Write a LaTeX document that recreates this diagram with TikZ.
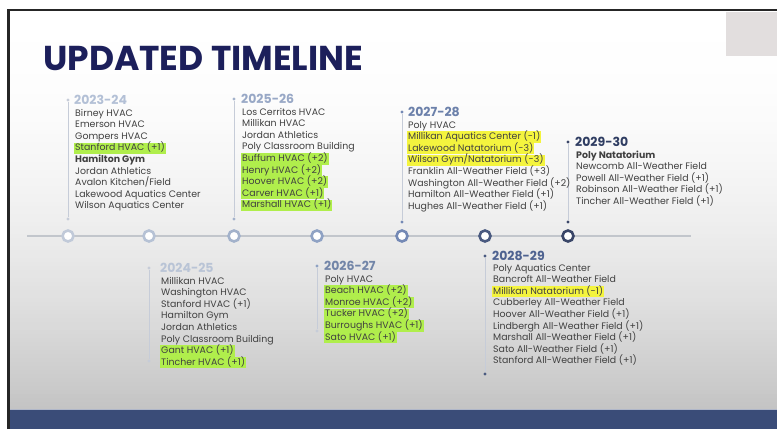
\documentclass[tikz,border=0pt]{standalone}
\usepackage{fontspec}
\setmainfont{Poppins}
\usetikzlibrary{positioning,calc}
\definecolor{titlenavy}{HTML}{1C1F5B}
\definecolor{itemgray}{HTML}{404040}
\definecolor{hlgreen}{HTML}{B0EE4C}
\definecolor{hlyellow}{HTML}{F4F43E}
\definecolor{bandblue}{HTML}{3A4C78}
\definecolor{framegray}{HTML}{262626}
\definecolor{cornerbox}{HTML}{E2DEDE}
\definecolor{slidebot}{HTML}{C4C4C4}
\definecolor{axisgray}{HTML}{C2C6CC}
\definecolor{stemgray}{HTML}{C6CCD8}
\definecolor{ringA}{HTML}{C1CAD9}
\definecolor{ringB}{HTML}{B6C2D5}
\definecolor{ringC}{HTML}{A3B2CB}
\definecolor{ringD}{HTML}{8FA2C4}
\definecolor{ringE}{HTML}{7489B5}
\definecolor{ringF}{HTML}{4A5A80}
\definecolor{ringG}{HTML}{3A4668}
\definecolor{yearA}{HTML}{B3C0D6}
\definecolor{yearB}{HTML}{B9C4D6}
\definecolor{yearC}{HTML}{98A8C6}
\definecolor{yearD}{HTML}{7285A8}
\definecolor{yearE}{HTML}{6B80AA}
\definecolor{yearF}{HTML}{4E6290}
\definecolor{yearG}{HTML}{2F3D62}
\tikzset{
  item/.style={anchor=base west, inner xsep=1pt, inner ysep=0.9pt,
    text height=7.3pt, text depth=2.3pt, text=itemgray,
    font=\fontsize{9.4}{11}\selectfont},
  yearlbl/.style={anchor=base west, inner sep=0pt,
    font=\fontsize{12.5}{14}\selectfont\bfseries},
  ring/.style={circle, draw, line width=2.6pt, fill=white,
    minimum size=11pt, inner sep=0pt},
  stem/.style={line width=1pt, draw=stemgray},
  pin/.style={circle, fill, inner sep=0pt, minimum size=3.2pt},
  title/.style={anchor=base west, inner sep=0pt, text=titlenavy,
    font=\fontsize{34.5}{37}\selectfont\bfseries}
}
% one column of project lines: name prefix, x, first baseline, list
\newcommand{\tlcol}[4]{%
  \foreach \txt/\hl [count=\i] in {#4}
    \node[item, fill=\hl] (#1\i) at (#2,{#3+11.6*(\i-1)}) {\txt};
}

\begin{document}
\begin{tikzpicture}[x=1pt, y=-1pt]
    \useasboundingbox (0,0) rectangle (777,429);
    \fill[white] (0,0) rectangle (777,429);
    % slide background, white fading to grey towards the bottom
    \foreach \k in {0,...,99} {
      \pgfmathsetmacro{\grey}{100*(\k/99)^2}
      \fill[slidebot!\grey!white] (9,{10+4*\k}) rectangle (777,{14.2+4*\k});
    }
    \fill[cornerbox] (726,12) rectangle (777,56);
    \fill[bandblue] (9,409) rectangle (777,429);
    \draw[white!60!bandblue, line width=0.6pt] (9,409) -- (777,409);
    \draw[framegray, line width=2.5pt] (8.5,429) -- (8.5,10) -- (777,10);

    \node[title] (title) at (43,70) {UPDATED TIMELINE};

    % axis and rings
    \coordinate (axL) at (27,236);
    \coordinate (axR) at (691,236);
    \draw[axisgray, line width=2pt] (axL) -- (axR);
    \node[ring, draw=ringA] (c1) at (68,236) {};
    \node[ring, draw=ringB] (c2) at (149,236) {};
    \node[ring, draw=ringC] (c3) at (234,236) {};
    \node[ring, draw=ringD] (c4) at (317,236) {};
    \node[ring, draw=ringE] (c5) at (402,236) {};
    \node[ring, draw=ringF] (c6) at (485,236) {};
    \node[ring, draw=ringG] (c7) at (568,236) {};

    % stems with end pins
    \node[pin, fill=stemgray] (d1) at (68,100) {};
    \node[pin, fill=stemgray] (t1) at (68,219) {};
    \node[pin, fill=stemgray] (d2) at (149,268) {};
    \node[pin, fill=stemgray] (t2) at (149,361) {};
    \node[pin, fill=ringC] (d3) at (234,99) {};
    \node[pin, fill=ringC] (t3) at (234,219) {};
    \node[pin, fill=ringD] (d4) at (317,266) {};
    \node[pin, fill=stemgray] (t4) at (317,331) {};
    \node[pin, fill=ringE] (d5) at (402,112) {};
    \node[pin, fill=ringE] (t5) at (402,222) {};
    \node[pin, fill=ringF] (d6) at (485,256) {};
    \node[pin, fill=ringF] (t6) at (485,374) {};
    \node[pin, fill=ringG] (d7) at (568,142) {};
    \node[pin, fill=ringG] (t7) at (568,222) {};
    \foreach \k in {1,...,7}
      \draw[stem] (d\k) -- (t\k);

    % year labels
    \node[yearlbl, text=yearA, right=6pt of d1.center, anchor=west] (y1) {2023-24};
    \node[yearlbl, text=yearB, right=11pt of d2.center, anchor=west] (y2) {2024-25};
    \node[yearlbl, text=yearC, right=7pt of d3.center, anchor=west] (y3) {2025-26};
    \node[yearlbl, text=yearD, right=7pt of d4.center, anchor=west] (y4) {2026-27};
    \node[yearlbl, text=yearE, right=6pt of d5.center, anchor=west] (y5) {2027-28};
    \node[yearlbl, text=yearF, right=7pt of d6.center, anchor=west] (y6) {2028-29};
    \node[yearlbl, text=yearG, right=7pt of d7.center, anchor=west] (y7) {2029-30};

    % project lists
    \tlcol{a}{74}{116}{Birney HVAC/none, Emerson HVAC/none, Gompers HVAC/none,
      Stanford HVAC (+1)/hlgreen, \textbf{Hamilton Gym}/none, Jordan Athletics/none,
      {Avalon Kitchen/Field}/none, Lakewood Aquatics Center/none, Wilson Aquatics Center/none}
    \tlcol{b}{160}{284}{Millikan HVAC/none, Washington HVAC/none, Stanford HVAC (+1)/none,
      Hamilton Gym/none, Jordan Athletics/none, Poly Classroom Building/none,
      Gant HVAC (+1)/hlgreen, Tincher HVAC (+1)/hlgreen}
    \tlcol{c}{241}{115}{Los Cerritos HVAC/none, Millikan HVAC/none, Jordan Athletics/none,
      Poly Classroom Building/none, Buffum HVAC (+2)/hlgreen, Henry HVAC (+2)/hlgreen,
      Hoover HVAC (+2)/hlgreen, Carver HVAC (+1)/hlgreen, Marshall HVAC (+1)/hlgreen}
    \tlcol{e}{324}{282}{Poly HVAC/none, Beach HVAC (+2)/hlgreen, Monroe HVAC (+2)/hlgreen,
      Tucker HVAC (+2)/hlgreen, Burroughs HVAC (+1)/hlgreen, Sato HVAC (+1)/hlgreen}
    \tlcol{f}{407}{128}{Poly HVAC/none, Millikan Aquatics Center (-1)/hlyellow,
      Lakewood Natatorium (-3)/hlyellow, {Wilson Gym/Natatorium (-3)}/hlyellow,
      Franklin All-Weather Field (+3)/none, Washington All-Weather Field (+2)/none,
      Hamilton All-Weather Field (+1)/none, Hughes All-Weather Field (+1)/none}
    \tlcol{g}{492}{271}{Poly Aquatics Center/none, Bancroft All-Weather Field/none,
      Millikan Natatorium (-1)/hlyellow, Cubberley All-Weather Field/none,
      Hoover All-Weather Field (+1)/none, Lindbergh All-Weather Field (+1)/none,
      Marshall All-Weather Field (+1)/none, Sato All-Weather Field (+1)/none,
      Stanford All-Weather Field (+1)/none}
    \tlcol{h}{575}{158}{\textbf{Poly Natatorium}/none, Newcomb All-Weather Field/none,
      Powell All-Weather Field (+1)/none, Robinson All-Weather Field (+1)/none,
      Tincher All-Weather Field (+1)/none}
\end{tikzpicture}
\end{document}
